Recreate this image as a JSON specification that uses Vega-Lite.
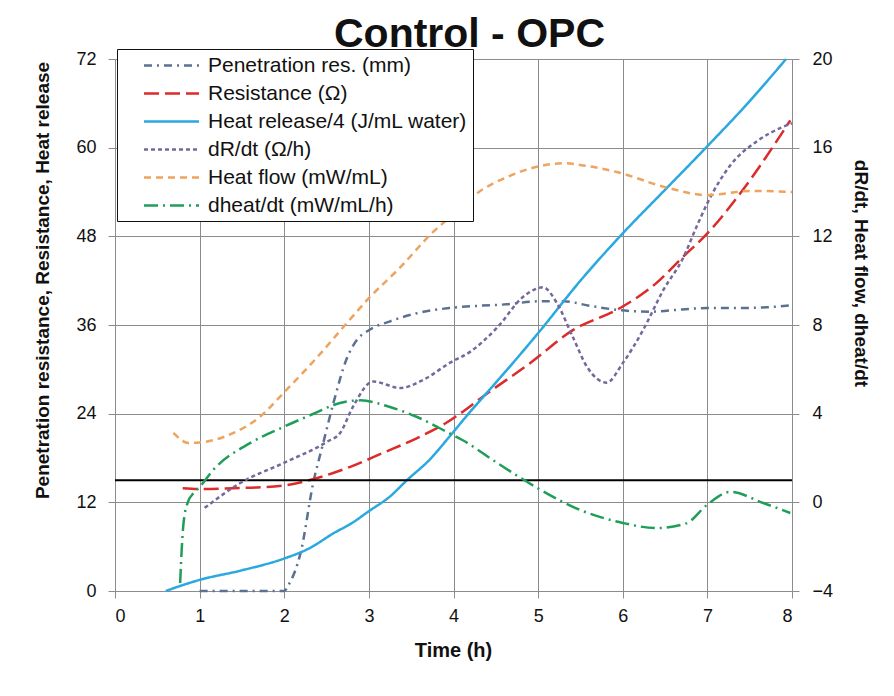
{
  "$schema": "https://vega.github.io/schema/vega-lite/v6.json",
  "autosize": {"type": "none"},
  "width": 677,
  "height": 532,
  "padding": {"left": 115, "top": 59, "right": 102, "bottom": 105},
  "background": "white",
  "title": {"text": "Control - OPC", "fontSize": 41, "font": "Liberation Sans", "fontWeight": "bold", "color": "#111111", "anchor": "middle", "dx": 16, "offset": -7},
  "config": {
    "font": "Liberation Sans",
    "view": {"stroke": null},
    "axis": {"labelFont": "Liberation Sans", "labelFontSize": 18, "labelColor": "#111111", "titleFont": "Liberation Sans", "titleFontSize": 19, "titleFontWeight": "bold", "titleColor": "#111111", "gridColor": "#8c8c8c", "gridWidth": 1, "gridOpacity": 1, "domainColor": "#8c8c8c", "tickColor": "#8c8c8c", "tickSize": 7, "titleBaseline": "middle", "titleAlign": "center"},
    "legend": {"labelFont": "Liberation Sans", "labelFontSize": 21, "labelColor": "#111111", "labelLimit": 0}
  },
  "data": {"values": [
    {"s": "Penetration res. (mm)", "t": 1.0, "v": 0},
    {"s": "Penetration res. (mm)", "t": 1.5, "v": 0},
    {"s": "Penetration res. (mm)", "t": 2.0, "v": 0},
    {"s": "Penetration res. (mm)", "t": 2.05, "v": 0.8},
    {"s": "Penetration res. (mm)", "t": 2.2, "v": 5.5},
    {"s": "Penetration res. (mm)", "t": 2.34, "v": 14.5},
    {"s": "Penetration res. (mm)", "t": 2.46, "v": 20},
    {"s": "Penetration res. (mm)", "t": 2.58, "v": 25.4},
    {"s": "Penetration res. (mm)", "t": 2.74, "v": 31.5},
    {"s": "Penetration res. (mm)", "t": 2.86, "v": 34},
    {"s": "Penetration res. (mm)", "t": 3.0, "v": 35.3},
    {"s": "Penetration res. (mm)", "t": 3.25, "v": 36.5},
    {"s": "Penetration res. (mm)", "t": 3.57, "v": 37.6},
    {"s": "Penetration res. (mm)", "t": 3.95, "v": 38.3},
    {"s": "Penetration res. (mm)", "t": 4.3, "v": 38.6},
    {"s": "Penetration res. (mm)", "t": 4.63, "v": 38.8},
    {"s": "Penetration res. (mm)", "t": 5.0, "v": 39.2},
    {"s": "Penetration res. (mm)", "t": 5.3, "v": 39.2},
    {"s": "Penetration res. (mm)", "t": 5.61, "v": 38.6},
    {"s": "Penetration res. (mm)", "t": 5.97, "v": 38.0},
    {"s": "Penetration res. (mm)", "t": 6.32, "v": 37.8},
    {"s": "Penetration res. (mm)", "t": 6.7, "v": 38.1},
    {"s": "Penetration res. (mm)", "t": 7.0, "v": 38.3},
    {"s": "Penetration res. (mm)", "t": 7.35, "v": 38.3},
    {"s": "Penetration res. (mm)", "t": 7.7, "v": 38.4},
    {"s": "Penetration res. (mm)", "t": 8.0, "v": 38.7},
    {"s": "Resistance (Ω)", "t": 0.8, "v": 13.9},
    {"s": "Resistance (Ω)", "t": 1.0, "v": 13.8},
    {"s": "Resistance (Ω)", "t": 1.4, "v": 13.9},
    {"s": "Resistance (Ω)", "t": 2.0, "v": 14.3},
    {"s": "Resistance (Ω)", "t": 2.39, "v": 15.3},
    {"s": "Resistance (Ω)", "t": 2.78, "v": 16.8},
    {"s": "Resistance (Ω)", "t": 3.17, "v": 18.7},
    {"s": "Resistance (Ω)", "t": 3.57, "v": 20.7},
    {"s": "Resistance (Ω)", "t": 3.92, "v": 22.8},
    {"s": "Resistance (Ω)", "t": 4.43, "v": 27.0},
    {"s": "Resistance (Ω)", "t": 4.9, "v": 30.8},
    {"s": "Resistance (Ω)", "t": 5.41, "v": 35.3},
    {"s": "Resistance (Ω)", "t": 5.97, "v": 38.3},
    {"s": "Resistance (Ω)", "t": 6.4, "v": 41.7},
    {"s": "Resistance (Ω)", "t": 6.71, "v": 45.2},
    {"s": "Resistance (Ω)", "t": 7.0, "v": 48.4},
    {"s": "Resistance (Ω)", "t": 7.42, "v": 54.3},
    {"s": "Resistance (Ω)", "t": 7.98, "v": 63.7},
    {"s": "Heat release/4 (J/mL water)", "t": 0.6, "v": 0},
    {"s": "Heat release/4 (J/mL water)", "t": 0.8, "v": 0.8},
    {"s": "Heat release/4 (J/mL water)", "t": 1.0, "v": 1.5},
    {"s": "Heat release/4 (J/mL water)", "t": 1.5, "v": 2.8},
    {"s": "Heat release/4 (J/mL water)", "t": 2.0, "v": 4.4},
    {"s": "Heat release/4 (J/mL water)", "t": 2.3, "v": 5.8},
    {"s": "Heat release/4 (J/mL water)", "t": 2.58, "v": 7.8},
    {"s": "Heat release/4 (J/mL water)", "t": 2.8, "v": 9.2},
    {"s": "Heat release/4 (J/mL water)", "t": 3.0, "v": 10.8},
    {"s": "Heat release/4 (J/mL water)", "t": 3.25, "v": 12.8},
    {"s": "Heat release/4 (J/mL water)", "t": 3.45, "v": 15.0},
    {"s": "Heat release/4 (J/mL water)", "t": 3.72, "v": 17.8},
    {"s": "Heat release/4 (J/mL water)", "t": 3.96, "v": 21.0},
    {"s": "Heat release/4 (J/mL water)", "t": 4.2, "v": 24.3},
    {"s": "Heat release/4 (J/mL water)", "t": 4.47, "v": 27.8},
    {"s": "Heat release/4 (J/mL water)", "t": 4.75, "v": 31.5},
    {"s": "Heat release/4 (J/mL water)", "t": 5.0, "v": 34.9},
    {"s": "Heat release/4 (J/mL water)", "t": 5.5, "v": 42.0},
    {"s": "Heat release/4 (J/mL water)", "t": 6.0, "v": 48.4},
    {"s": "Heat release/4 (J/mL water)", "t": 6.5, "v": 54.3},
    {"s": "Heat release/4 (J/mL water)", "t": 7.0, "v": 60.2},
    {"s": "Heat release/4 (J/mL water)", "t": 7.5, "v": 66.3},
    {"s": "Heat release/4 (J/mL water)", "t": 7.93, "v": 72.0},
    {"s": "dR/dt (Ω/h)", "t": 1.06, "v": -0.25},
    {"s": "dR/dt (Ω/h)", "t": 1.48, "v": 0.87},
    {"s": "dR/dt (Ω/h)", "t": 1.99, "v": 1.77},
    {"s": "dR/dt (Ω/h)", "t": 2.5, "v": 2.72},
    {"s": "dR/dt (Ω/h)", "t": 2.66, "v": 3.13},
    {"s": "dR/dt (Ω/h)", "t": 2.81, "v": 4.3},
    {"s": "dR/dt (Ω/h)", "t": 3.05, "v": 5.45},
    {"s": "dR/dt (Ω/h)", "t": 3.37, "v": 5.16},
    {"s": "dR/dt (Ω/h)", "t": 3.64, "v": 5.52},
    {"s": "dR/dt (Ω/h)", "t": 3.96, "v": 6.3},
    {"s": "dR/dt (Ω/h)", "t": 4.2, "v": 6.8},
    {"s": "dR/dt (Ω/h)", "t": 4.52, "v": 7.9},
    {"s": "dR/dt (Ω/h)", "t": 4.82, "v": 9.26},
    {"s": "dR/dt (Ω/h)", "t": 5.06, "v": 9.7},
    {"s": "dR/dt (Ω/h)", "t": 5.22, "v": 9.0},
    {"s": "dR/dt (Ω/h)", "t": 5.41, "v": 7.46},
    {"s": "dR/dt (Ω/h)", "t": 5.58, "v": 6.1},
    {"s": "dR/dt (Ω/h)", "t": 5.81, "v": 5.4},
    {"s": "dR/dt (Ω/h)", "t": 6.0, "v": 6.28},
    {"s": "dR/dt (Ω/h)", "t": 6.24, "v": 7.77},
    {"s": "dR/dt (Ω/h)", "t": 6.48, "v": 9.58},
    {"s": "dR/dt (Ω/h)", "t": 6.71, "v": 11.0},
    {"s": "dR/dt (Ω/h)", "t": 6.88, "v": 12.5},
    {"s": "dR/dt (Ω/h)", "t": 7.0, "v": 13.5},
    {"s": "dR/dt (Ω/h)", "t": 7.27, "v": 15.2},
    {"s": "dR/dt (Ω/h)", "t": 7.59, "v": 16.3},
    {"s": "dR/dt (Ω/h)", "t": 7.9, "v": 16.95},
    {"s": "dR/dt (Ω/h)", "t": 8.0, "v": 17.1},
    {"s": "Heat flow (mW/mL)", "t": 0.69, "v": 3.13},
    {"s": "Heat flow (mW/mL)", "t": 0.87, "v": 2.68},
    {"s": "Heat flow (mW/mL)", "t": 1.0, "v": 2.7},
    {"s": "Heat flow (mW/mL)", "t": 1.4, "v": 3.13},
    {"s": "Heat flow (mW/mL)", "t": 1.71, "v": 3.85},
    {"s": "Heat flow (mW/mL)", "t": 1.99, "v": 4.93},
    {"s": "Heat flow (mW/mL)", "t": 2.39, "v": 6.55},
    {"s": "Heat flow (mW/mL)", "t": 2.74, "v": 8.09},
    {"s": "Heat flow (mW/mL)", "t": 2.98, "v": 9.13},
    {"s": "Heat flow (mW/mL)", "t": 3.37, "v": 10.6},
    {"s": "Heat flow (mW/mL)", "t": 3.76, "v": 12.2},
    {"s": "Heat flow (mW/mL)", "t": 4.0, "v": 13.0},
    {"s": "Heat flow (mW/mL)", "t": 4.3, "v": 14.0},
    {"s": "Heat flow (mW/mL)", "t": 4.63, "v": 14.67},
    {"s": "Heat flow (mW/mL)", "t": 5.0, "v": 15.15},
    {"s": "Heat flow (mW/mL)", "t": 5.3, "v": 15.3},
    {"s": "Heat flow (mW/mL)", "t": 5.53, "v": 15.2},
    {"s": "Heat flow (mW/mL)", "t": 5.93, "v": 14.9},
    {"s": "Heat flow (mW/mL)", "t": 6.52, "v": 14.2},
    {"s": "Heat flow (mW/mL)", "t": 7.0, "v": 13.86},
    {"s": "Heat flow (mW/mL)", "t": 7.5, "v": 14.05},
    {"s": "Heat flow (mW/mL)", "t": 8.0, "v": 14.0},
    {"s": "dheat/dt (mW/mL/h)", "t": 0.77, "v": -3.64},
    {"s": "dheat/dt (mW/mL/h)", "t": 0.79, "v": -2.0},
    {"s": "dheat/dt (mW/mL/h)", "t": 0.81, "v": -0.93},
    {"s": "dheat/dt (mW/mL/h)", "t": 0.86, "v": 0.0},
    {"s": "dheat/dt (mW/mL/h)", "t": 0.93, "v": 0.42},
    {"s": "dheat/dt (mW/mL/h)", "t": 1.0, "v": 0.69},
    {"s": "dheat/dt (mW/mL/h)", "t": 1.16, "v": 1.46},
    {"s": "dheat/dt (mW/mL/h)", "t": 1.6, "v": 2.68},
    {"s": "dheat/dt (mW/mL/h)", "t": 1.99, "v": 3.4},
    {"s": "dheat/dt (mW/mL/h)", "t": 2.39, "v": 4.07},
    {"s": "dheat/dt (mW/mL/h)", "t": 2.58, "v": 4.39},
    {"s": "dheat/dt (mW/mL/h)", "t": 2.9, "v": 4.6},
    {"s": "dheat/dt (mW/mL/h)", "t": 3.25, "v": 4.3},
    {"s": "dheat/dt (mW/mL/h)", "t": 3.57, "v": 3.85},
    {"s": "dheat/dt (mW/mL/h)", "t": 3.96, "v": 3.1},
    {"s": "dheat/dt (mW/mL/h)", "t": 4.11, "v": 2.8},
    {"s": "dheat/dt (mW/mL/h)", "t": 4.52, "v": 1.77},
    {"s": "dheat/dt (mW/mL/h)", "t": 4.99, "v": 0.65},
    {"s": "dheat/dt (mW/mL/h)", "t": 5.5, "v": -0.35},
    {"s": "dheat/dt (mW/mL/h)", "t": 6.0, "v": -0.93},
    {"s": "dheat/dt (mW/mL/h)", "t": 6.4, "v": -1.16},
    {"s": "dheat/dt (mW/mL/h)", "t": 6.75, "v": -0.95},
    {"s": "dheat/dt (mW/mL/h)", "t": 7.0, "v": -0.1},
    {"s": "dheat/dt (mW/mL/h)", "t": 7.27, "v": 0.47},
    {"s": "dheat/dt (mW/mL/h)", "t": 7.66, "v": -0.03},
    {"s": "dheat/dt (mW/mL/h)", "t": 7.98, "v": -0.48}
  ]},
  "layer": [
    {
      "layer": [
        {
          "transform": [{"filter": {"field": "s", "oneOf": ["Penetration res. (mm)", "Resistance (Ω)", "Heat release/4 (J/mL water)"]}}],
          "mark": {"type": "line", "strokeWidth": 2.5, "interpolate": "monotone"},
          "encoding": {
            "x": {"field": "t", "type": "quantitative", "scale": {"domain": [0, 8], "nice": false}, "axis": {"title": "Time (h)", "values": [0, 1, 2, 3, 4, 5, 6, 7, 8], "format": "d", "grid": true, "labelPadding": 9, "titleY": 59, "titleX": 338, "titleFontSize": 20}},
            "y": {"field": "v", "type": "quantitative", "scale": {"domain": [0, 72], "nice": false, "zero": false}, "axis": {"title": "Penetration resistance, Resistance, Heat release", "values": [0, 12, 24, 36, 48, 60, 72], "grid": true, "labelPadding": 12, "titleX": -73, "titleY": 221}},
            "color": {"field": "s", "type": "nominal", "scale": {"domain": ["Penetration res. (mm)", "Resistance (Ω)", "Heat release/4 (J/mL water)", "dR/dt (Ω/h)", "Heat flow (mW/mL)", "dheat/dt (mW/mL/h)"], "range": ["#5a7190", "#dd2a2a", "#2aa8df", "#76689c", "#eea35e", "#1f9e5a"]}, "legend": {"title": null, "orient": "none", "legendX": 2, "legendY": -10, "fillColor": "white", "strokeColor": "#111111", "padding": 5, "symbolType": "M-2.75,0H2.75", "symbolSize": 400, "symbolStrokeWidth": 2.5, "symbolOffset": 38, "labelOffset": 25, "rowPadding": 6, "labelFontSize": 21, "labelLimit": 0}},
            "strokeDash": {"field": "s", "type": "nominal", "scale": {"domain": ["Penetration res. (mm)", "Resistance (Ω)", "Heat release/4 (J/mL water)", "dR/dt (Ω/h)", "Heat flow (mW/mL)", "dheat/dt (mW/mL/h)"], "range": [[8, 5, 2, 5], [15, 6], [1, 0], [4, 3], [7, 5], [14, 5, 2, 5]]}, "legend": {"title": null}}
          }
        },
        {
          "data": {"values": [{"lvl": 15}]},
          "mark": {"type": "rule", "color": "#000000", "strokeWidth": 2},
          "encoding": {
            "y": {"field": "lvl", "type": "quantitative", "scale": {"domain": [0, 72], "nice": false, "zero": false}, "axis": {"title": "Penetration resistance, Resistance, Heat release", "values": [0, 12, 24, 36, 48, 60, 72], "grid": true, "labelPadding": 12, "titleX": -73, "titleY": 221}}
          }
        }
      ]
    },
    {
      "transform": [{"filter": {"field": "s", "oneOf": ["dR/dt (Ω/h)", "Heat flow (mW/mL)", "dheat/dt (mW/mL/h)"]}}],
      "mark": {"type": "line", "strokeWidth": 2.5, "interpolate": "monotone"},
      "encoding": {
        "x": {"field": "t", "type": "quantitative", "scale": {"domain": [0, 8], "nice": false}},
        "y": {"field": "v", "type": "quantitative", "scale": {"domain": [-4, 20], "nice": false, "zero": false}, "axis": {"title": "dR/dt, Heat flow, dheat/dt", "orient": "right", "values": [-4, 0, 4, 8, 12, 16, 20], "grid": false, "labelPadding": 13, "titleX": 68, "titleY": 214}},
        "color": {"field": "s", "type": "nominal"},
        "strokeDash": {"field": "s", "type": "nominal"}
      }
    }
  ],
  "resolve": {"scale": {"y": "independent"}}
}
